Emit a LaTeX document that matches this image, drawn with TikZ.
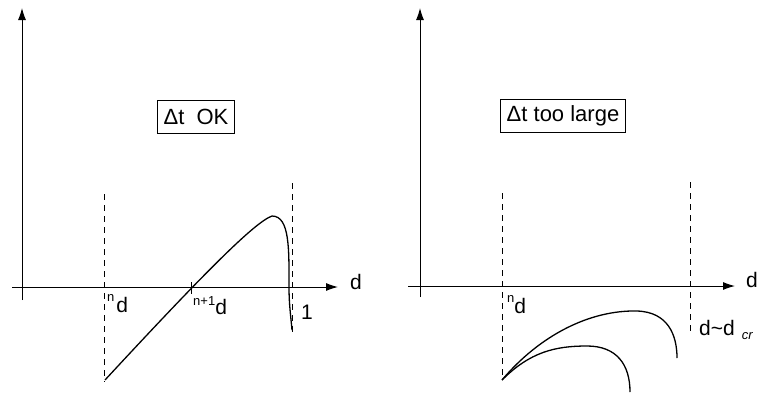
\documentclass[tikz,border=0pt]{standalone}
\usepackage{fontspec}
\setmainfont{Liberation Sans}
\usetikzlibrary{arrows.meta}

\newcommand{\iterup}[2][10pt]{\raisebox{#1}{\fontsize{13}{13}\selectfont #2}}

\begin{document}
\begin{tikzpicture}[
    x=1pt, y=-1pt,
    axis/.style={line width=1pt, -{Latex[length=12pt, width=8pt]}},
    guide/.style={line width=1pt, dash pattern=on 6pt off 5pt},
    branch/.style={line width=1.3pt},
    axlabel/.style={font=\fontsize{21}{21}\selectfont, inner sep=0pt, anchor=base west},
    casebox/.style={draw, line width=1pt, font=\fontsize{22}{22}\selectfont, inner xsep=6pt, inner ysep=0pt, minimum height=33pt},
]
\useasboundingbox (0,0) rectangle (759,394);

% Left panel (dt OK)
\coordinate (okxs) at (12,287);
\coordinate (okxe) at (338,287);
\coordinate (okys) at (22,300);
\coordinate (okye) at (22,8);
\draw[axis] (okxs) -- (okxe);
\draw[axis] (okys) -- (okye);
\node[axlabel] (okd) at (350,289) {d};

\node[casebox] (okcase) at (196,117) {Δt\ \ OK};

\coordinate (okna) at (104,194);
\coordinate (oknb) at (104,382);
\coordinate (okla) at (292,183);
\coordinate (oklb) at (292,333);
\draw[guide] (okna) -- (oknb);
\draw[guide] (okla) -- (oklb);

\coordinate (okstart) at (105,380);
\coordinate (okpeak) at (272,216);
\coordinate (okcut) at (289,287);
\coordinate (okend) at (292,330);
\draw[branch] (okstart) .. controls (205,272) and (255,222) .. (okpeak)
    .. controls (290,216) and (289,250) .. (okcut)
    .. controls (289,305) and (291,318) .. (okend);

\coordinate (oknext) at (191,287);
\draw[line width=1pt] ([yshift=5pt]oknext) -- ([yshift=-7pt]oknext);

\node[axlabel] (okn) at (107,312) {\iterup[11pt]{n}\hspace{2pt}d};
\node[axlabel] (oknn) at (193,314) {\iterup[9pt]{n+1}d};
\node[axlabel] (okone) at (301,319) {1};

% Right panel (dt too large)
\coordinate (bigxs) at (408,286);
\coordinate (bigxe) at (735,286);
\coordinate (bigys) at (420,297);
\coordinate (bigye) at (420,8);
\draw[axis] (bigxs) -- (bigxe);
\draw[axis] (bigys) -- (bigye);
\node[axlabel] (bigd) at (746,287) {d};

\node[casebox] (bigcase) at (563,116) {Δt too large};

\coordinate (bigna) at (502,193);
\coordinate (bignb) at (502,380);
\coordinate (bigla) at (690,182);
\coordinate (biglb) at (690,332);
\draw[guide] (bigna) -- (bignb);
\draw[guide] (bigla) -- (biglb);

\coordinate (bigstart) at (502,380);
\coordinate (bigtopa) at (637,311);
\coordinate (bigenda) at (677,358);
\coordinate (bigtopb) at (587,346);
\coordinate (bigendb) at (630,392);
\draw[branch] (bigstart) .. controls (540,335) and (590,310) .. (bigtopa)
    .. controls (668,312) and (677,335) .. (bigenda);
\draw[branch] (bigstart) .. controls (530,352) and (555,346) .. (bigtopb)
    .. controls (617,346) and (630,365) .. (bigendb);

\node[axlabel] (bign) at (507,313) {\iterup[11pt]{n}d};
\node[axlabel] (bigcr) at (699,335) {d\textasciitilde d\hspace{7pt}\raisebox{-4pt}{\fontsize{13}{13}\selectfont\itshape cr}};

\end{tikzpicture}
\end{document}
